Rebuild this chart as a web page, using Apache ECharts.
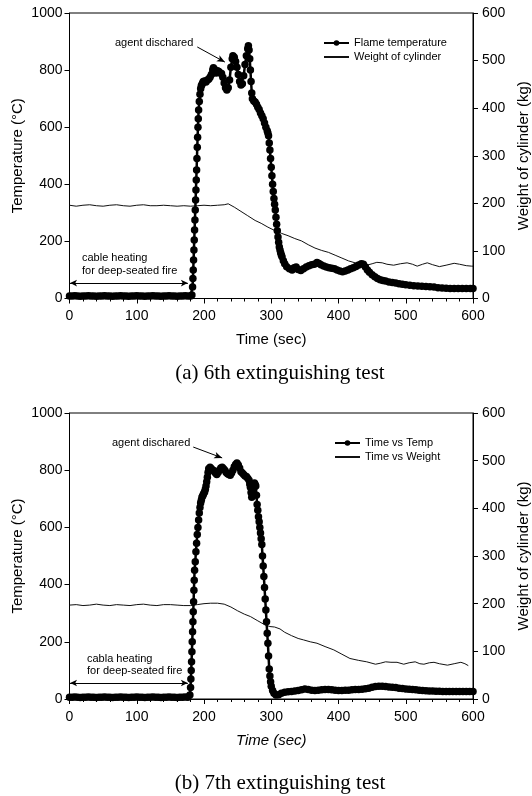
<!DOCTYPE html>
<html><head><meta charset="utf-8">
<script src="https://cdn.jsdelivr.net/npm/echarts@6/dist/echarts.min.js"></script>
<style>html,body{margin:0;padding:0;background:#fff}#c{width:532px;height:796px}</style>
</head><body><div id="c"></div>
<script>
// ---- Data: (a) 6th extinguishing test ----
const tempA = [[0,9],[4,9],[8,10],[12,9],[16,8],[20,9],[24,9],[28,10],[32,9],[36,9],[40,8],[44,9],[48,9],[52,10],[56,9],[60,9],[64,8],[68,9],[72,9],[76,10],[80,9],[84,9],[88,8],[92,9],[96,9],[100,10],[104,9],[108,9],[112,8],[116,9],[120,9],[124,10],[128,9],[132,9],[136,8],[140,9],[144,9],[148,10],[152,9],[156,9],[160,8],[164,9],[168,9],[172,10],[176,9],[180,9],
[182,12],[183,40],[183.5,70],[184,100],[184.5,135],[185,170],[185.5,205],[186,240],[186.5,275],[187,310],[187.5,345],[188,380],[188.5,415],[189,450],[189.5,490],[190,530],[190.5,565],[191,600],[191.5,630],[192,660],[193,690],[194,715],[195,735],[196,745],[197,750],[198,755],[199,760],[201,762],[203,758],[205,765],[207,768],[209,775],[211,785],[213,800],[214,808],[216,802],[218,790],[220,798],[222,795],[224,790],[226,788],[228,775],[230,755],[232,738],[234,730],[236,738],[238,765],[240,810],[242,840],[243,850],[245,845],[247,830],[249,810],[251,785],[253,760],[255,748],[257,752],[259,780],[261,820],[263,850],[265,875],[266,885],[267,870],[268,840],[269,800],[270,760],[271,720],[272,700],[274,692],[276,688],[278,680],[280,670],[282,662],[284,650],[286,640],[288,630],[290,615],[292,600],[294,588],[295,580],[296,570],[297,545],[298,520],[299,490],[300,460],[301,430],[302,400],[303,375],[304,350],[305,330],[306,310],[307,285],[308,260],[309,237],[310,215],[311,197],[312,180],[313,170],[314,160],[315,152],[316,146],[318,132],[320,122],[323,111],[327,104],[331,100],[334,108],[337,110],[340,102],[344,98],[348,104],[352,110],[356,115],[360,118],[364,120],[368,126],[371,123],[374,118],[378,114],[382,110],[386,108],[390,106],[394,104],[398,100],[402,96],[406,94],[410,96],[414,100],[418,104],[422,108],[426,112],[430,117],[434,122],[437,120],[440,110],[443,100],[446,92],[450,83],[454,76],[458,70],[462,66],[466,63],[470,61],[475,58],[480,56],[485,54],[490,52],[495,50],[500,48],[506,46],[512,45],[518,44],[524,43],[530,42],[536,41],[542,40],[548,38],[554,37],[560,36],[566,35],[572,35],[578,35],[584,35],[590,35],[596,35],[600,35]];
const weightA = [[0,196],[10,194],[20,196],[30,197],[40,195],[50,194],[60,196],[70,197],[80,195],[90,194],[100,196],[110,197],[120,195],[130,195],[140,196],[150,195],[160,194],[170,195],[180,194],[190,195],[200,196],[210,195],[220,196],[230,197],[236,199],[245,192],[255,183],[265,174],[276,164],[285,158],[295,150],[305,143],[315,137],[325,132],[335,126],[345,121],[355,113],[365,106],[375,101],[385,97],[395,91],[405,85],[415,79],[427,74],[435,71],[442,70],[450,73],[457,76],[465,75],[472,72],[482,70],[492,73],[502,75],[510,72],[517,68],[525,72],[532,75],[540,71],[550,67],[560,70],[572,74],[580,72],[590,69],[598,68],[600,68]];
// ---- Data: (b) 7th extinguishing test ----
const tempB = [[0,6],[4,6],[8,7],[12,6],[16,5],[20,6],[24,6],[28,7],[32,6],[36,6],[40,5],[44,6],[48,6],[52,7],[56,6],[60,6],[64,5],[68,6],[72,6],[76,7],[80,6],[84,6],[88,5],[92,6],[96,6],[100,7],[104,6],[108,6],[112,5],[116,6],[120,6],[124,7],[128,6],[132,6],[136,5],[140,6],[144,6],[148,7],[152,6],[156,6],[160,5],[164,6],[168,6],[172,7],[176,6],
[179,14],[180,40],[180.5,70],[181,100],[181.5,130],[182,165],[182.5,200],[183,235],[183.5,270],[184,305],[184.5,340],[185,380],[185.5,415],[186,450],[187,480],[188,515],[189,545],[190,575],[191,600],[192,626],[193,650],[194,670],[195,685],[196,695],[197,705],[198,710],[199,715],[200,720],[201,725],[202,733],[203,745],[204,760],[205,775],[206,792],[207,805],[209,810],[211,805],[213,800],[215,798],[217,790],[219,785],[221,792],[223,800],[225,808],[227,810],[229,805],[231,800],[233,792],[235,788],[237,785],[239,782],[241,790],[243,800],[245,812],[247,820],[249,825],[251,818],[253,808],[255,795],[257,790],[259,785],[261,780],[263,778],[265,772],[267,765],[268,752],[269,740],[270,722],[271,705],[272,712],[273,720],[274,738],[275,755],[276,750],[277,745],[278,712],[279,680],[280,660],[281,637],[282,620],[283,600],[284,580],[285,560],[286,540],[287,500],[288,465],[289,428],[290,390],[291,350],[292,311],[293,270],[294,230],[295,195],[296,150],[297,105],[298,80],[299,60],[300,45],[302,30],[304,20],[307,14],[311,15],[315,20],[320,24],[325,25],[330,26],[335,28],[340,30],[345,32],[350,35],[355,33],[360,31],[365,30],[370,31],[375,32],[380,33],[385,33],[390,32],[395,31],[400,30],[405,30],[410,31],[415,31],[420,32],[425,33],[430,33],[435,34],[440,36],[445,38],[450,41],[455,44],[460,45],[465,45],[470,44],[475,42],[480,41],[485,40],[490,38],[495,37],[500,35],[505,34],[510,33],[515,32],[520,31],[525,30],[530,29],[535,28],[540,28],[545,27],[550,27],[555,26],[560,26],[565,26],[570,26],[575,26],[580,26],[585,26],[590,26],[595,26],[600,26]];
const weightB = [[0,197],[10,198],[20,196],[30,197],[40,199],[50,197],[60,196],[70,198],[80,197],[90,196],[100,198],[110,199],[120,197],[130,196],[140,198],[150,198],[160,197],[170,196],[180,196],[190,198],[200,200],[210,201],[220,201],[230,199],[240,193],[250,185],[260,178],[269,173],[280,164],[290,156],[298,152],[305,151],[313,147],[320,140],[330,133],[340,127],[348,124],[358,120],[368,117],[380,110],[393,103],[405,94],[417,85],[430,81],[442,78],[455,73],[462,75],[470,78],[478,77],[487,77],[497,73],[505,76],[514,78],[521,74],[527,73],[535,76],[542,77],[550,74],[562,71],[572,74],[582,77],[588,74],[593,70]];
const xTicks = {min:0, max:600, interval:100};
const tempTicks = {min:0, max:1000, interval:200};
const weightTicks = {min:0, max:600, interval:100};

const FONT = 'Arial, "Liberation Sans", sans-serif';
const chart = echarts.init(document.getElementById('c'), null, {renderer:'canvas'});
const axisLine = {show:true, lineStyle:{color:'#000', width:1}};
const plain = v => String(v);
function xAx(gi, italic){
  return {type:'value', gridIndex:gi, min:xTicks.min, max:xTicks.max, interval:xTicks.interval,
    name:'Time (sec)', nameLocation:'middle', nameGap:34, nameMoveOverlap:false,
    nameTextStyle:{fontFamily:FONT, fontSize:15, color:'#000', fontStyle: italic?'italic':'normal'},
    axisLine:axisLine, axisTick:{show:true, length:5, lineStyle:{color:'#000'}},
    minorTick:{show:true, splitNumber:5, length:3, lineStyle:{color:'#000'}},
    axisLabel:{fontFamily:FONT, fontSize:14, color:'#000', margin:11, formatter:plain},
    splitLine:{show:false}};
}
function yLeft(gi){
  return {type:'value', gridIndex:gi, position:'left', min:tempTicks.min, max:tempTicks.max, interval:tempTicks.interval,
    name:'Temperature (°C)', nameLocation:'middle', nameGap:44, nameRotate:90, nameMoveOverlap:false,
    nameTextStyle:{fontFamily:FONT, fontSize:15, color:'#000'},
    axisLine:axisLine, axisTick:{show:true, length:5, lineStyle:{color:'#000'}},
    axisLabel:{fontFamily:FONT, fontSize:14, color:'#000', margin:7, formatter:plain},
    splitLine:{show:false}};
}
function yRight(gi){
  return {type:'value', gridIndex:gi, position:'right', min:weightTicks.min, max:weightTicks.max, interval:weightTicks.interval,
    name:'Weight of cylinder (kg)', nameLocation:'middle', nameGap:43, nameRotate:90, nameMoveOverlap:false,
    nameTextStyle:{fontFamily:FONT, fontSize:15, color:'#000'},
    axisLine:axisLine, axisTick:{show:true, length:5, lineStyle:{color:'#000'}},
    axisLabel:{fontFamily:FONT, fontSize:14, color:'#000', margin:9, formatter:plain},
    splitLine:{show:false}};
}
function annot(arrowFrom, arrowTo, bracketY){
  return {silent:true, symbol:['none','none'], animation:false, label:{show:false},
    lineStyle:{color:'#000', width:1, type:'solid'},
    data:[
      [{coord:arrowFrom, symbol:'none'},{coord:arrowTo, symbol:'arrow', symbolSize:[5,8]}],
      [{coord:[0.8,bracketY], symbol:'arrow', symbolSize:[5,7]},{coord:[176,bracketY], symbol:'arrow', symbolSize:[5,7]}]
    ]};
}
function tempSeries(name, data, xi, yi, ml){
  return {name, type:'line', xAxisIndex:xi, yAxisIndex:yi, data, symbol:'circle', symbolSize:7.5,
    showAllSymbol:true, itemStyle:{color:'#000'}, lineStyle:{color:'#000', width:2.5}, z:5, animation:false,
    markLine: ml};
}
function weightSeries(name, data, xi, yi){
  return {name, type:'line', xAxisIndex:xi, yAxisIndex:yi, data, symbol:'none', showSymbol:false,
    lineStyle:{color:'#111', width:1}, itemStyle:{color:'#111', opacity:0}, z:3, animation:false};
}
const legendBase = {orient:'vertical', itemWidth:25, itemHeight:7, itemGap:2, padding:0,
  textStyle:{fontFamily:FONT, fontSize:11, color:'#000', lineHeight:12}, selectedMode:false};
const gridBase = {show:true, borderColor:'#000', borderWidth:1, backgroundColor:'transparent', containLabel:false, outerBoundsMode:'none'};
const option = {
  backgroundColor:'#fff', animation:false,
  grid:[
    Object.assign({left:69.5, top:13, width:403.5, height:285.5}, gridBase),
    Object.assign({left:69.5, top:413, width:403.5, height:286}, gridBase)
  ],
  xAxis:[xAx(0,false), xAx(1,true)],
  yAxis:[yLeft(0), yRight(0), yLeft(1), yRight(1)],
  legend:[
    Object.assign({}, legendBase, {data:['Flame temperature','Weight of cylinder'], left:323, top:37}),
    Object.assign({}, legendBase, {data:['Time vs Temp','Time vs Weight'], left:334, top:437})
  ],
  series:[
    weightSeries('Weight of cylinder', weightA, 0, 1),
    tempSeries('Flame temperature', tempA, 0, 0, annot([190,881],[231,828],54)),
    weightSeries('Time vs Weight', weightB, 1, 3),
    tempSeries('Time vs Temp', tempB, 1, 2, annot([184,881],[227,843],56))
  ],
  graphic:[
    {type:'text', left:115, top:37, style:{text:'agent dischared', font:'11px '+FONT, fill:'#000'}},
    {type:'text', left:82, top:251, style:{text:'cable heating\nfor deep-seated fire', font:'11px '+FONT, lineHeight:13, fill:'#000'}},
    {type:'text', left:112, top:437, style:{text:'agent dischared', font:'11px '+FONT, fill:'#000'}},
    {type:'text', left:87, top:653, style:{text:'cabla heating\nfor deep-seated fire', font:'11px '+FONT, lineHeight:12, fill:'#000'}},
    {type:'text', x:280, y:373, style:{text:'(a) 6th extinguishing test', font:'21px "Liberation Serif", "Times New Roman", serif', fill:'#000', textAlign:'center', textVerticalAlign:'middle'}},
    {type:'text', x:280, y:783, style:{text:'(b) 7th extinguishing test', font:'21px "Liberation Serif", "Times New Roman", serif', fill:'#000', textAlign:'center', textVerticalAlign:'middle'}}
  ]
};
chart.setOption(option);
</script></body></html>
